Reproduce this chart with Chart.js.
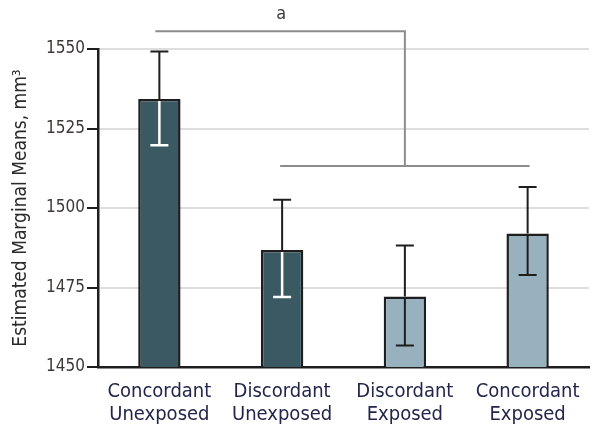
<!DOCTYPE html>
<html>
<head>
<meta charset="utf-8">
<script src="https://cdn.jsdelivr.net/npm/chart.js@4"></script>
<style>
  html, body { margin: 0; padding: 0; background: #fff; }
  canvas { display: block; }
</style>
</head>
<body>
<canvas id="chart" width="601" height="436"></canvas>
<script>
// data
const categories = [["Concordant", "Unexposed"], ["Discordant", "Unexposed"], ["Discordant", "Exposed"], ["Concordant", "Exposed"]];
const means = [1534.3, 1486.8, 1472.2, 1492.0];
const errLow = [1519.7, 1472.0, 1456.8, 1478.9];
const errHigh = [1549.2, 1502.6, 1488.2, 1506.6];
const barColors = ["#3a5962", "#3a5962", "#97b2be", "#97b2be"];
const innerErrColors = ["#ffffff", "#ffffff", "#1e1e1e", "#1e1e1e"];
const yTicks = [1450, 1475, 1500, 1525, 1550];
// significance bracket levels (in mm3)
const bracketTop = 1555.6;
const bracketLow = 1513.2;
const bracketLabel = "a";

const FONT = "'DejaVu Sans Condensed', 'DejaVu Sans', sans-serif";

const errorBars = {
  id: "errorBars",
  afterDatasetsDraw(chart) {
    const ctx = chart.ctx;
    const y = chart.scales.y;
    const meta = chart.getDatasetMeta(0);
    ctx.save();
    ctx.lineWidth = 2;
    meta.data.forEach((bar, i) => {
      const x = bar.x;
      const top = y.getPixelForValue(errHigh[i]);
      const bot = y.getPixelForValue(errLow[i]);
      const barTop = y.getPixelForValue(means[i]);
      const half = 9;
      // part above the bar
      ctx.strokeStyle = "#1e1e1e";
      ctx.beginPath();
      ctx.moveTo(x, top); ctx.lineTo(x, barTop);
      ctx.moveTo(x - half, top); ctx.lineTo(x + half, top);
      ctx.stroke();
      // part inside the bar
      ctx.strokeStyle = innerErrColors[i];
      ctx.lineWidth = innerErrColors[i] === "#ffffff" ? 2.5 : 2;
      ctx.beginPath();
      ctx.moveTo(x, barTop + 2); ctx.lineTo(x, bot);
      ctx.moveTo(x - half, bot); ctx.lineTo(x + half, bot);
      ctx.stroke();
      ctx.lineWidth = 2;
    });
    ctx.restore();
  }
};

const bracket = {
  id: "bracket",
  afterDraw(chart) {
    const ctx = chart.ctx;
    const y = chart.scales.y;
    const meta = chart.getDatasetMeta(0);
    const yt = y.getPixelForValue(bracketTop);
    const yl = y.getPixelForValue(bracketLow);
    const xl1 = meta.data[1].x, xl2 = meta.data[3].x;
    const xm = (xl1 + xl2) / 2;
    ctx.save();
    ctx.strokeStyle = "#8c8c8c";
    ctx.lineWidth = 2;
    ctx.beginPath();
    ctx.moveTo(meta.data[0].x - 4, yt); ctx.lineTo(xm, yt); ctx.lineTo(xm, yl);
    ctx.moveTo(xl1 - 2, yl); ctx.lineTo(xl2 + 2, yl);
    ctx.stroke();
    ctx.fillStyle = "#3d3a3a";
    ctx.font = "18px " + FONT;
    ctx.textAlign = "center";
    ctx.textBaseline = "bottom";
    ctx.fillText(bracketLabel, xl1 - 1, yt - 8);
    ctx.restore();
  }
};

new Chart(document.getElementById("chart"), {
  type: "bar",
  data: {
    labels: categories,
    datasets: [{
      data: means,
      backgroundColor: barColors,
      borderColor: "#1e1e1e",
      borderWidth: 2.5,
      borderSkipped: "bottom",
      categoryPercentage: 1,
      barPercentage: 0.345
    }]
  },
  options: {
    responsive: false,
    animation: false,
    devicePixelRatio: 1,
    layout: { padding: { top: 49, right: 12, left: 0, bottom: 0 } },
    plugins: { legend: { display: false }, tooltip: { enabled: false } },
    scales: {
      x: {
        grid: { display: false },
        border: { color: "#1e1e1e", width: 2.5 },
        ticks: {
          color: "#23264a",
          padding: 5,
          autoSkip: false,
          maxRotation: 0,
          font: { family: FONT, size: 20, lineHeight: 1.15 }
        },
        afterFit(scale) { scale.height = 69; }
      },
      y: {
        min: 1450,
        max: 1550,
        afterBuildTicks(scale) { scale.ticks = yTicks.map(v => ({ value: v })); },
        grid: { color: "#dedede", lineWidth: 2, tickColor: "#1e1e1e", tickLength: 11 },
        border: { color: "#1e1e1e", width: 2.5 },
        ticks: {
          color: "#3d3838",
          padding: 2,
          autoSkip: false,
          callback: v => String(v),
          font: { family: FONT, size: 17 }
        },
        title: {
          display: true,
          text: "Estimated Marginal Means, mm³",
          color: "#2a2a2a",
          padding: { top: 10, bottom: 0 },
          font: { family: FONT, size: 19 }
        },
        afterFit(scale) { scale.width = 98; }
      }
    }
  },
  plugins: [errorBars, bracket]
});
</script>
</body>
</html>
